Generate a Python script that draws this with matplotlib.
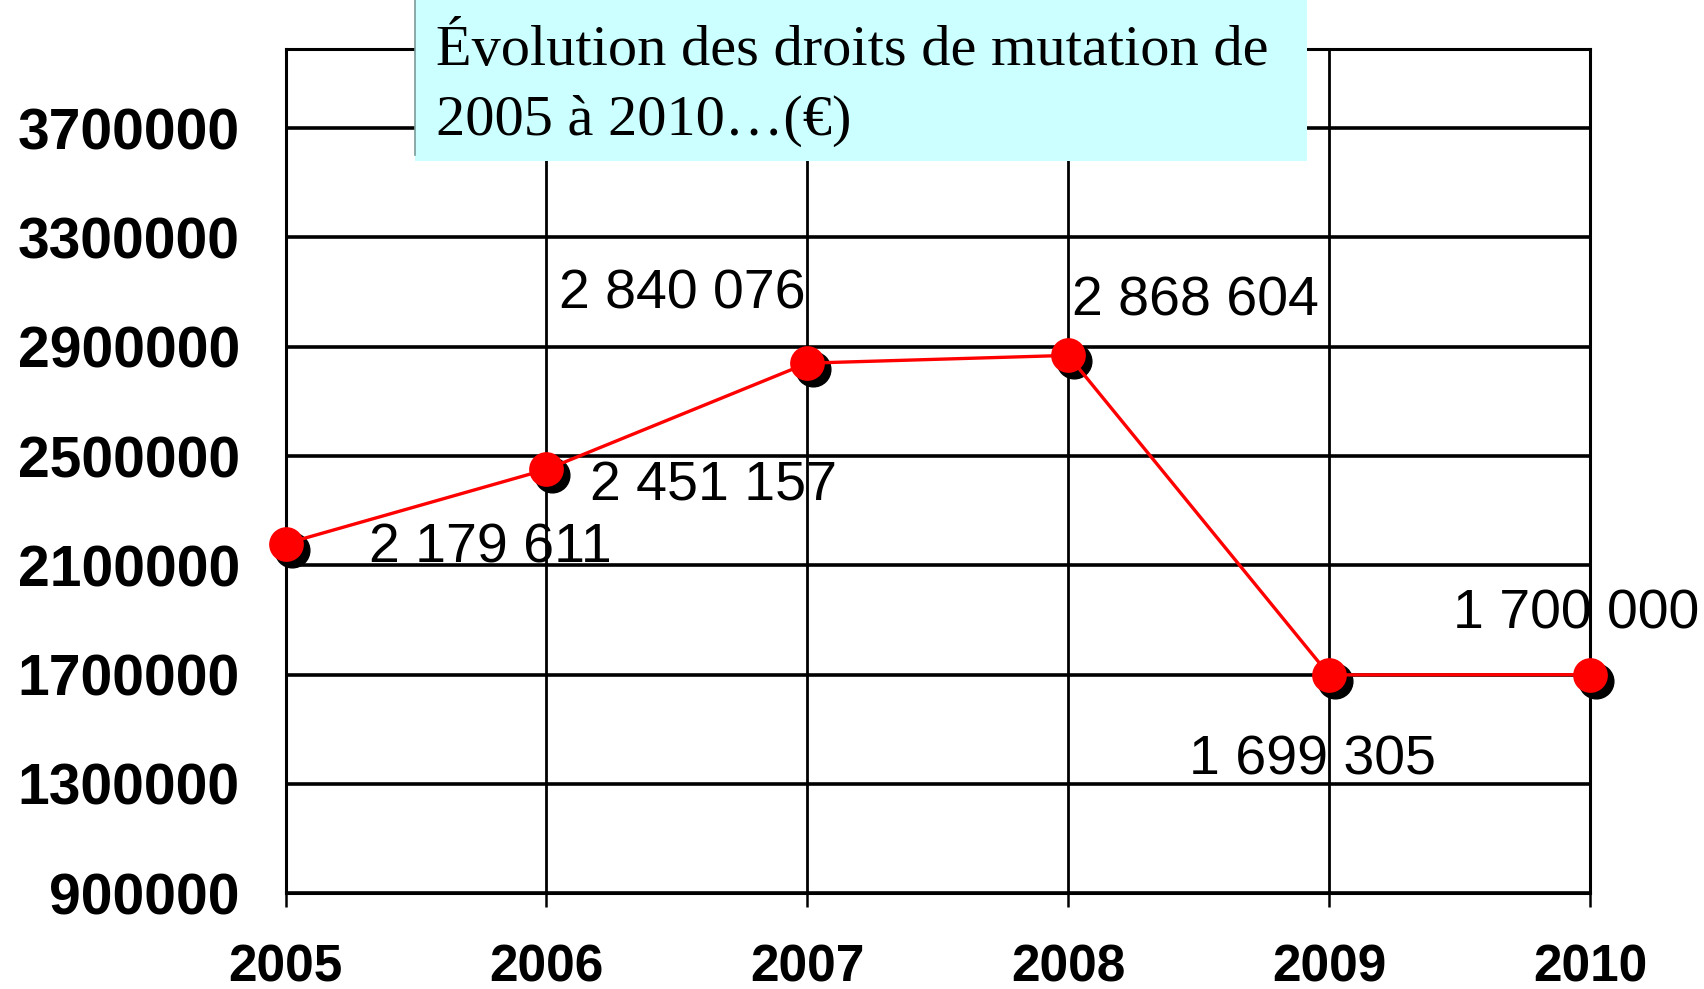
import matplotlib
matplotlib.use("Agg")
import matplotlib.pyplot as plt
from matplotlib.patches import Rectangle
from matplotlib.transforms import offset_copy

years = [2005, 2006, 2007, 2008, 2009, 2010]
droits = [2179611, 2451157, 2840076, 2868604, 1699305, 1700000]
y_ticks = [900000, 1300000, 1700000, 2100000, 2500000, 2900000, 3300000, 3700000]
title_lines = ["Évolution des droits de mutation de", "2005 à 2010…(€)"]

# where each value label sits, relative to its point (pixels: right, up)
label_offsets = [(83, -5), (44, -17), (-248, 69), (4, 54), (-140, -86), (-137, 60)]

fig = plt.figure(figsize=(17.04, 9.89), dpi=100)
ax = fig.add_axes([0.1676, 0.0968, 0.7655, 0.8537])

ax.set_xlim(2005, 2010)
ax.set_ylim(900000, 3990000)
ax.set_xticks(years)
ax.set_yticks(y_ticks)
ax.set_xticklabels([str(y) for y in years], fontfamily="Liberation Sans",
                   fontweight="bold", fontsize=37)
ax.set_yticklabels([str(v) for v in y_ticks], fontfamily="Liberation Sans",
                   fontweight="bold", fontsize=41)
ax.tick_params(axis="x", length=10, width=1.8, direction="out", pad=26, colors="black")
ax.tick_params(axis="y", length=0, pad=33)

for v in y_ticks:
    ax.axhline(v, color="black", lw=2.6, zorder=1)
for y in years:
    ax.axvline(y, color="black", lw=2.0, zorder=1)
for s in ax.spines.values():
    s.set_linewidth(2.2)

# shadow under the markers
shadow = offset_copy(ax.transData, fig=fig, x=6, y=-6, units="dots")
ax.plot(years, droits, "o", color="black", ms=25, transform=shadow, zorder=3, clip_on=False)
ax.plot(years, droits, "-", color="#ff0000", lw=2.4, zorder=4, clip_on=False)
ax.plot(years, droits, "o", color="#ff0000", ms=25, mew=0, zorder=5, clip_on=False)

for x, v, (dx, dy) in zip(years, droits, label_offsets):
    txt = f"{v:,}".replace(",", " ")
    ax.annotate(txt, (x, v), xytext=(dx * 0.72, dy * 0.72), textcoords="offset points",
                ha="left", va="center", fontsize=40, fontfamily="Liberation Sans",
                zorder=6, annotation_clip=False)

# title box over the chart
box = Rectangle((0.2433, 0.8372), 0.5237, 0.17, transform=fig.transFigure,
                facecolor="#ccffff", edgecolor="none", zorder=10)
fig.add_artist(box)
fig.add_artist(plt.Line2D([0.2436, 0.2436], [0.843, 1.0], transform=fig.transFigure,
                          color="#7a9a9a", lw=1.2, zorder=11))
fig.text(0.2559, 1 - 65 / 989, title_lines[0], fontfamily="Liberation Serif",
         fontsize=42, va="baseline", ha="left", zorder=12)
fig.text(0.2559, 1 - 135 / 989, title_lines[1], fontfamily="Liberation Serif",
         fontsize=42, va="baseline", ha="left", zorder=12)

fig.savefig("out.png", dpi=100)
